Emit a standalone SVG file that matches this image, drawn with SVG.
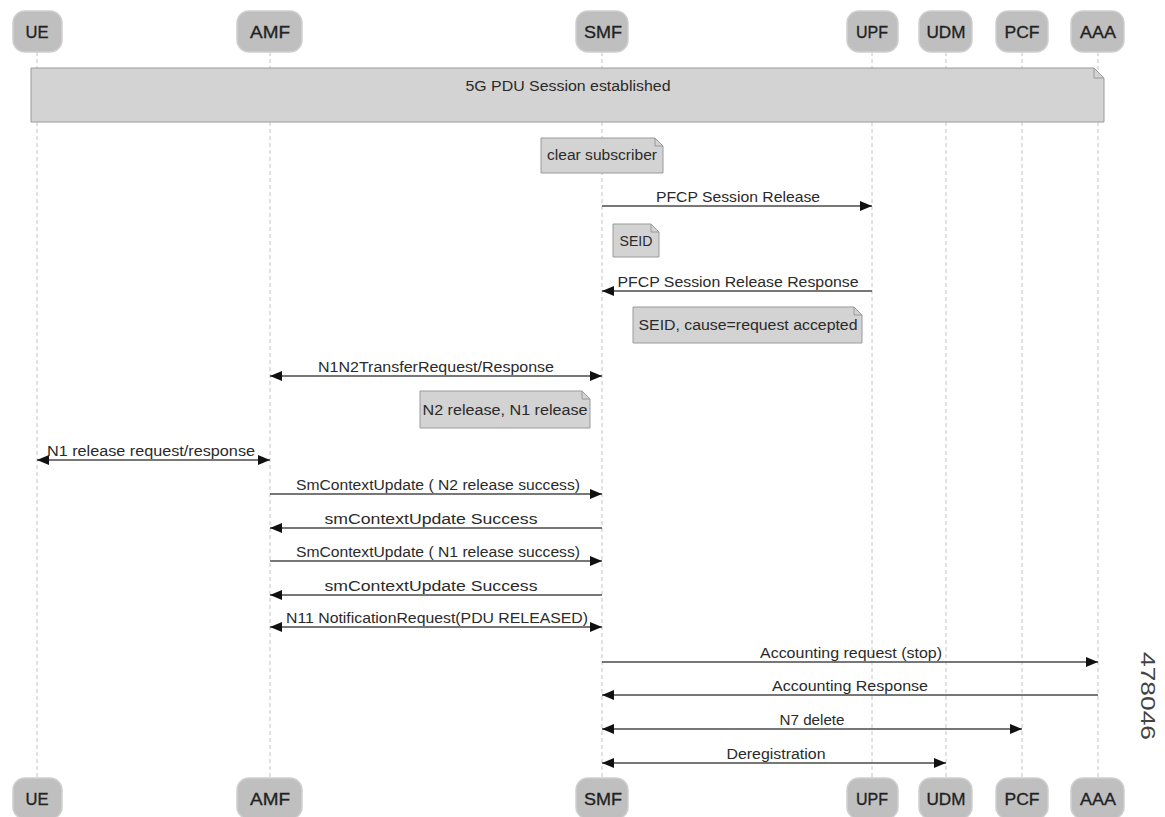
<svg xmlns="http://www.w3.org/2000/svg" width="1165" height="817" viewBox="0 0 1165 817">
<defs>
<marker id="ah" viewBox="0 0 12 10" refX="12" refY="5" markerWidth="12" markerHeight="10" markerUnits="userSpaceOnUse" orient="auto-start-reverse">
<path d="M0,0 L12,5 L0,10 z" fill="#111"/>
</marker>
<style>
.life{stroke:#c4c4c4;stroke-width:1;stroke-dasharray:4,3}
.pbox{fill:#bfbfbf;stroke:#cfcfcf;stroke-width:1.5}
.ptxt{font-family:"Liberation Sans",Arial,sans-serif;font-size:16px;fill:#222;stroke:#222;stroke-width:0.3;text-anchor:middle}
.note{fill:#d3d3d3;stroke:#9a9a9a;stroke-width:1}
.fold{fill:none;stroke:#9a9a9a;stroke-width:1}
.txt{font-family:"Liberation Sans",Arial,sans-serif;font-size:14px;fill:#2a2a2a;text-anchor:middle}
.msg{stroke:#4a4a4a;stroke-width:1.7;fill:none}
.one{marker-end:url(#ah)}
.two{marker-start:url(#ah);marker-end:url(#ah)}
</style>
</defs>
<rect width="1165" height="817" fill="#ffffff"/>

<g id="lifelines">
<line class="life" x1="37" y1="52" x2="37" y2="778"/>
<line class="life" x1="270" y1="52" x2="270" y2="778"/>
<line class="life" x1="602" y1="52" x2="602" y2="778"/>
<line class="life" x1="872" y1="52" x2="872" y2="778"/>
<line class="life" x1="946" y1="52" x2="946" y2="778"/>
<line class="life" x1="1022" y1="52" x2="1022" y2="778"/>
<line class="life" x1="1098" y1="52" x2="1098" y2="778"/>
</g>

<g id="UE">
<rect class="pbox" x="13" y="11" width="49" height="41" rx="12"/>
<text class="ptxt" x="37" y="38" textLength="23" lengthAdjust="spacingAndGlyphs">UE</text>
<rect class="pbox" x="13" y="778" width="49" height="41" rx="12"/>
<text class="ptxt" x="37" y="805" textLength="23" lengthAdjust="spacingAndGlyphs">UE</text>
</g>
<g id="AMF">
<rect class="pbox" x="237" y="11" width="65" height="41" rx="12"/>
<text class="ptxt" x="270" y="38" textLength="40" lengthAdjust="spacingAndGlyphs">AMF</text>
<rect class="pbox" x="237" y="778" width="65" height="41" rx="12"/>
<text class="ptxt" x="270" y="805" textLength="40" lengthAdjust="spacingAndGlyphs">AMF</text>
</g>
<g id="SMF">
<rect class="pbox" x="576" y="11" width="52" height="41" rx="12"/>
<text class="ptxt" x="603" y="38" textLength="38" lengthAdjust="spacingAndGlyphs">SMF</text>
<rect class="pbox" x="576" y="778" width="52" height="41" rx="12"/>
<text class="ptxt" x="603" y="805" textLength="38" lengthAdjust="spacingAndGlyphs">SMF</text>
</g>
<g id="UPF">
<rect class="pbox" x="847" y="11" width="51" height="41" rx="12"/>
<text class="ptxt" x="872" y="38" textLength="32" lengthAdjust="spacingAndGlyphs">UPF</text>
<rect class="pbox" x="847" y="778" width="51" height="41" rx="12"/>
<text class="ptxt" x="872" y="805" textLength="32" lengthAdjust="spacingAndGlyphs">UPF</text>
</g>
<g id="UDM">
<rect class="pbox" x="919" y="11" width="53" height="41" rx="12"/>
<text class="ptxt" x="946" y="38" textLength="39" lengthAdjust="spacingAndGlyphs">UDM</text>
<rect class="pbox" x="919" y="778" width="53" height="41" rx="12"/>
<text class="ptxt" x="946" y="805" textLength="39" lengthAdjust="spacingAndGlyphs">UDM</text>
</g>
<g id="PCF">
<rect class="pbox" x="996" y="11" width="52" height="41" rx="12"/>
<text class="ptxt" x="1022" y="38" textLength="35" lengthAdjust="spacingAndGlyphs">PCF</text>
<rect class="pbox" x="996" y="778" width="52" height="41" rx="12"/>
<text class="ptxt" x="1022" y="805" textLength="35" lengthAdjust="spacingAndGlyphs">PCF</text>
</g>
<g id="AAA">
<rect class="pbox" x="1071" y="11" width="53" height="41" rx="12"/>
<text class="ptxt" x="1098" y="38" textLength="36" lengthAdjust="spacingAndGlyphs">AAA</text>
<rect class="pbox" x="1071" y="778" width="53" height="41" rx="12"/>
<text class="ptxt" x="1098" y="805" textLength="36" lengthAdjust="spacingAndGlyphs">AAA</text>
</g>

<g id="note-5g">
<path class="note" d="M31,68 H1094 L1104,78 V122 H31 Z"/>
<path class="fold" d="M1094,68 V78 H1104"/>
<text class="txt" x="568" y="91" textLength="205" lengthAdjust="spacingAndGlyphs">5G PDU Session established</text>
</g>
<g id="note-clear">
<path class="note" d="M541,138 H655 L663,146 V173 H541 Z"/>
<path class="fold" d="M655,138 V146 H663"/>
<text class="txt" x="602" y="160" textLength="110" lengthAdjust="spacingAndGlyphs">clear subscriber</text>
</g>
<g id="note-seid">
<path class="note" d="M613,224 H651 L659,232 V257 H613 Z"/>
<path class="fold" d="M651,224 V232 H659"/>
<text class="txt" x="636" y="246" textLength="33" lengthAdjust="spacingAndGlyphs" style="font-size:15px">SEID</text>
</g>
<g id="note-seid-cause">
<path class="note" d="M633,307 H854 L862,315 V343 H633 Z"/>
<path class="fold" d="M854,307 V315 H862"/>
<text class="txt" x="748" y="330" textLength="219" lengthAdjust="spacingAndGlyphs">SEID, cause=request accepted</text>
</g>
<g id="note-n2n1">
<path class="note" d="M420,391 H582 L590,399 V428 H420 Z"/>
<path class="fold" d="M582,391 V399 H590"/>
<text class="txt" x="505" y="415" textLength="165" lengthAdjust="spacingAndGlyphs">N2 release, N1 release</text>
</g>

<g id="connectors">
<line class="msg one" x1="602" y1="206" x2="872" y2="206"/>
<text class="txt" x="738" y="202" textLength="164" lengthAdjust="spacingAndGlyphs">PFCP Session Release</text>

<line class="msg one" x1="872" y1="291" x2="602" y2="291"/>
<text class="txt" x="738" y="287" textLength="241" lengthAdjust="spacingAndGlyphs">PFCP Session Release Response</text>

<line class="msg two" x1="270" y1="376" x2="602" y2="376"/>
<text class="txt" x="436" y="372" textLength="236" lengthAdjust="spacingAndGlyphs">N1N2TransferRequest/Response</text>

<line class="msg two" x1="37" y1="460" x2="270" y2="460"/>
<text class="txt" x="151" y="456" textLength="208" lengthAdjust="spacingAndGlyphs">N1 release request/response</text>

<line class="msg one" x1="270" y1="494" x2="602" y2="494"/>
<text class="txt" x="438" y="490" textLength="284" lengthAdjust="spacingAndGlyphs">SmContextUpdate ( N2 release success)</text>

<line class="msg one" x1="602" y1="528" x2="270" y2="528"/>
<text class="txt" x="431" y="524" textLength="213" lengthAdjust="spacingAndGlyphs">smContextUpdate Success</text>

<line class="msg one" x1="270" y1="561" x2="602" y2="561"/>
<text class="txt" x="438" y="557" textLength="284" lengthAdjust="spacingAndGlyphs">SmContextUpdate ( N1 release success)</text>

<line class="msg one" x1="602" y1="595" x2="270" y2="595"/>
<text class="txt" x="431" y="591" textLength="213" lengthAdjust="spacingAndGlyphs">smContextUpdate Success</text>

<line class="msg two" x1="270" y1="627" x2="602" y2="627"/>
<text class="txt" x="437" y="623" textLength="302" lengthAdjust="spacingAndGlyphs">N11 NotificationRequest(PDU RELEASED)</text>

<line class="msg one" x1="602" y1="662" x2="1098" y2="662"/>
<text class="txt" x="851" y="658" textLength="182" lengthAdjust="spacingAndGlyphs">Accounting request (stop)</text>

<line class="msg one" x1="1098" y1="695" x2="602" y2="695"/>
<text class="txt" x="850" y="691" textLength="156" lengthAdjust="spacingAndGlyphs">Accounting Response</text>

<line class="msg two" x1="602" y1="729" x2="1022" y2="729"/>
<text class="txt" x="812" y="725" textLength="65" lengthAdjust="spacingAndGlyphs">N7 delete</text>

<line class="msg two" x1="602" y1="763" x2="946" y2="763"/>
<text class="txt" x="776" y="759" textLength="99" lengthAdjust="spacingAndGlyphs">Deregistration</text>
</g>

<text x="1141" y="696" transform="rotate(90 1141 696)" font-family="Liberation Sans, Arial, sans-serif" font-size="20" fill="#444" text-anchor="middle" textLength="88" lengthAdjust="spacingAndGlyphs">478046</text>
</svg>
